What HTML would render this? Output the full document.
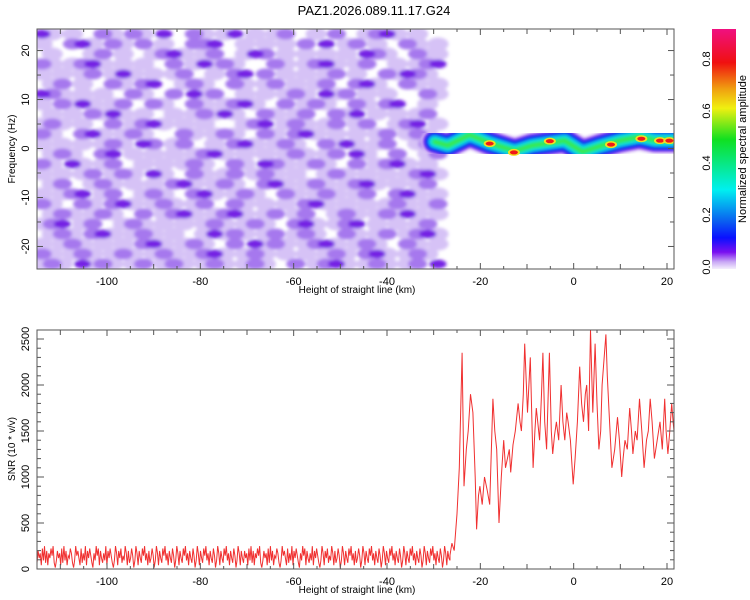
<!DOCTYPE html>
<html><head><meta charset="utf-8"><style>
body{margin:0;background:#fff;}
svg{display:block;font-family:"Liberation Sans",sans-serif;}
</style></head><body>
<svg id="c" width="750" height="600" viewBox="0 0 750 600" xmlns="http://www.w3.org/2000/svg">
<defs>
<linearGradient id="cg" x1="0" y1="1" x2="0" y2="0">
<stop offset="0" stop-color="#f4eefc"/><stop offset="0.03" stop-color="#c9a8f5"/>
<stop offset="0.07" stop-color="#7a10f0"/><stop offset="0.13" stop-color="#0a10ff"/>
<stop offset="0.2" stop-color="#0a60f0"/><stop offset="0.33" stop-color="#00f0f0"/>
<stop offset="0.54" stop-color="#10e020"/><stop offset="0.67" stop-color="#f0f010"/>
<stop offset="0.75" stop-color="#f0a010"/><stop offset="0.86" stop-color="#f01010"/>
<stop offset="1" stop-color="#f01080"/>
</linearGradient>
<clipPath id="cp1"><rect x="37" y="29" width="637" height="240"/></clipPath>
<clipPath id="cp2"><rect x="37" y="330" width="637" height="239"/></clipPath>
<filter id="bl" x="-5%" y="-5%" width="110%" height="110%"><feGaussianBlur stdDeviation="1.6"/></filter>
<filter id="bl2"><feGaussianBlur stdDeviation="1.5"/></filter>
</defs>
<text x="374" y="15" text-anchor="middle" font-size="13">PAZ1.2026.089.11.17.G24</text>
<g id="topPanel"></g>
<g id="botPanel"></g>
<rect x="712" y="29" width="24" height="240" fill="url(#cg)"/>
<g id="cbTicksG"></g>
<text transform="translate(746,149) rotate(-90)" text-anchor="middle" font-size="11">Normalized spectral amplitude</text>
</svg>
<script>
const NS='http://www.w3.org/2000/svg';
const xDomain=[-115,21.5];
const fDomain=[-24.6,24.4];
const snrDomain=[0,2598];
const xTicks=[-100,-80,-60,-40,-20,0,20];
const fTicks=[-20,-10,0,10,20];
const snrTicks=[0,500,1000,1500,2000,2500];
const cbTicks=[0,0.2,0.4,0.6,0.8];
const noiseRows=[
"3101002102103002101301012001020012310100",
"1002310210201002230010101020301201002101",
"0100012010012310120013201010101032100211",
"2101231010100201312100021012310120010123",
"1010120131010120010230201010120100213210",
"0120100210230012100210120101200231002101",
"3210101002100203120010101210312010100021",
"1021310120021002101231002012100210230010",
"0101021310100101213100210120021301010120",
"1210100201231010100012301210120120012301",
"2100231012100021012100210231010101201210",
"1010101210320120010231012100213101200121",
"0121002301010101231010101210120310020012",
"2103101200101012100210321012100201231010",
"1010120121031002101201210100121010101231",
"0120012101010231012100231012101231010120",
"1012301200121002310121002101210120023101",
"2100210231012101200210101023101010121012",
"0121012100201231012310120120012101213101",
"1230120012101010121012100231012301010120",
"0121023101210100131210120121002101201231",
"1012101010231012100203121012310121002101",
"2101210121012101231012101010121023101210",
"1210312101201210121012100201231012101203"];
const noiseRange=[-115,-28];
const bandKm=[-29.8,-27,-22.3,-18,-12.6,-9,-6.2,-1.9,1.9,5.6,9.8,14.1,17.3,21.5];
const bandHz=[1.4,0.6,2.8,1.1,-0.5,0.6,1.0,1.6,-0.7,0.5,1.6,2.4,1.7,1.7];
const hotKm=[-18,-12.8,-5.1,8,14.5,18.5,20.5];
const hotHz=[1.0,-0.8,1.5,0.8,2.0,1.6,1.6];
const baseDigits="2746183927164859203746182937154862039574182639174852063958174263917485203961748253961724850396174285936172485039617428593617428503961742859361742850396174285936174285039617428593617428503961742746183927164859203746182937154862039574182639174852063958174263917485203961748253961724850396174285936172485039617428593617428503961742859361742850396174285936174285039617428593617428503961743";
const baseRange=[-115,-26.5];
const sigKm=[-26.5,-26.1,-25.6,-25,-24.5,-23.9,-23.5,-23,-22.6,-22.1,-21.6,-21.1,-20.8,-20.4,-20.1,-19.6,-19.1,-18.5,-18,-17.3,-16.9,-16.5,-16,-15.5,-15,-14.6,-14.2,-13.8,-13.5,-13,-12.5,-11.9,-11.5,-11.2,-10.8,-10.5,-9.9,-9.6,-9.3,-8.7,-8.3,-8,-7.3,-6.9,-6.6,-6.2,-5.8,-5.2,-4.8,-4.5,-4.1,-3.7,-3.2,-2.7,-2.3,-1.9,-1.5,-1.2,-0.7,-0.1,0.3,0.8,1.3,1.7,2.1,2.5,2.8,3.2,3.6,4.1,4.6,5,5.4,5.8,6.1,6.9,7.2,7.6,8.2,8.8,9.4,9.8,10.3,10.6,11,11.5,12,12.4,12.7,13.2,13.6,14.1,14.6,15.1,15.6,16,16.4,16.8,17.3,17.9,18.5,19,19.5,19.8,20.2,20.6,21,21.3,21.7];
const sigVal=[150,280,200,600,1100,2350,900,1300,1500,1900,1700,1000,430,800,900,700,1000,850,700,1850,1500,1300,500,1000,1400,1100,1200,1300,1050,1350,1500,1800,1600,1500,1900,2450,1700,2000,2300,1100,1500,1750,1400,1900,2350,1600,1300,2350,1500,1250,1450,1600,1400,2000,1600,1400,1700,1600,1400,920,1200,1600,2200,1800,1600,1900,2000,1500,2600,1700,2450,1800,1300,1500,2000,2550,2100,1700,1100,1300,1650,1400,1000,1200,1400,1300,1750,1500,1250,1500,1400,1850,1500,1100,1400,1500,1850,1600,1200,1400,1600,1300,1850,1500,1250,1500,1800,1600,1400];

const px=v=>37+(v-xDomain[0])/(xDomain[1]-xDomain[0])*637;
const pyF=v=>269-(v-fDomain[0])/(fDomain[1]-fDomain[0])*240;
const pyS=v=>569-(v-snrDomain[0])/(snrDomain[1]-snrDomain[0])*239;
const pyC=v=>267-v/0.2*52;

function mk(tag,attrs,parent){const e=document.createElementNS(NS,tag);for(const k in attrs)e.setAttribute(k,attrs[k]);parent.appendChild(e);return e;}
const topG=document.getElementById('topPanel'),botG=document.getElementById('botPanel'),cbG=document.getElementById('cbTicksG');

const ng=mk('g',{'clip-path':'url(#cp1)',filter:'url(#bl)'},topG);


const cols=noiseRows[0].length, rows=noiseRows.length;
const cw=(px(noiseRange[1])-px(noiseRange[0]))/cols, ch=240/rows;
const ncol=['none','#d6c2f6','#a678ee','#7420e4'];
const nry=[0,6.5,5.5,4.5];
const nrx=[0,1.05,0.95,0.85];
[1,2,3].forEach(lvl=>{
noiseRows.forEach((r,i)=>{for(let j=0;j<r.length;j++){const d=+r[j];if(d!==lvl)continue;
 const c=mk('ellipse',{cx:px(noiseRange[0])+(j+0.5)*cw,cy:29+(i+0.5)*ch,rx:cw*nrx[d],ry:nry[d],fill:ncol[d]},ng);
 
 }});});
const bg=mk('g',{'clip-path':'url(#cp1)'},topG);


const bpts=bandKm.map((k,i)=>px(k).toFixed(1)+','+pyF(bandHz[i]).toFixed(1)).join(' ');
[[27,'#e2d2f8'],[23,'#8a30f0'],[19,'#1020f0'],[14,'#10b8f0'],[9,'#10e8d0'],[4,'#40e840']].forEach(([w,c])=>{
 const l=mk('polyline',{points:bpts,fill:'none',stroke:c,'stroke-width':w,'stroke-linejoin':'round','stroke-linecap':'round',filter:'url(#bl2)'},bg);
 
 });
hotKm.forEach((k,i)=>{
 const e=mk('ellipse',{cx:px(k),cy:pyF(hotHz[i]),rx:6,ry:3.5,fill:'#f0e020'},bg);
 
 
 const e2=mk('ellipse',{cx:px(k),cy:pyF(hotHz[i]),rx:4,ry:2,fill:'#f01818'},bg);
 
 });

const lg=mk('g',{'clip-path':'url(#cp2)'},botG);
const pts=[];
const n=baseDigits.length;
for(let i=0;i<n;i++){pts.push([baseRange[0]+i*(baseRange[1]-baseRange[0])/(n-1),(+baseDigits[i])*26+15]);}
sigKm.forEach((k,i)=>pts.push([k,sigVal[i]]));
const line=mk('polyline',{points:pts.map(p=>px(p[0]).toFixed(1)+','+pyS(p[1]).toFixed(1)).join(' '),fill:'none',stroke:'#f03030','stroke-width':1},lg);



function frame(g,y0,y1,name){
 const r=mk('rect',{x:37,y:y0,width:637,height:y1-y0,fill:'none',stroke:'#555','stroke-width':1},g);
 
 
 for(let v=-110;v<=20;v+=5){const x=px(v);const L=(v%20===0)?6:(v%10===0?5:3);
  mk('line',{x1:x,x2:x,y1:y1,y2:y1-L,stroke:'#555'},g);mk('line',{x1:x,x2:x,y1:y0,y2:y0+L,stroke:'#555'},g);}
 xTicks.forEach(v=>{const t=mk('text',{x:px(v),y:y1+16,'text-anchor':'middle','font-size':11},g);t.textContent=v;
  
  });
 const t=mk('text',{x:357,y:y1+24,'text-anchor':'middle','font-size':10},g);t.textContent='Height of straight line (km)';
 
 
}
frame(topG,29,269,'spectrogram-frame');
frame(botG,330,569,'snr-frame');
for(let v=-20;v<=20;v+=5){const y=pyF(v);const L=v%10===0?6:4;
 mk('line',{x1:37,x2:37+L,y1:y,y2:y,stroke:'#555'},topG);mk('line',{x1:674,x2:674-L,y1:y,y2:y,stroke:'#555'},topG);}
fTicks.forEach(v=>{const t=mk('text',{transform:`translate(29,${pyF(v)}) rotate(-90)`,'text-anchor':'middle','font-size':11},topG);t.textContent=v;
 
 });
let tt=mk('text',{transform:'translate(15,149) rotate(-90)','text-anchor':'middle','font-size':10},topG);tt.textContent='Frequency (Hz)';


for(let v=0;v<=2500;v+=100){const y=pyS(v);const L=v%500===0?7:4;
 mk('line',{x1:37,x2:37+L,y1:y,y2:y,stroke:'#555'},botG);mk('line',{x1:674,x2:674-L,y1:y,y2:y,stroke:'#555'},botG);}
snrTicks.forEach(v=>{const t=mk('text',{transform:`translate(29,${pyS(v)}) rotate(-90)`,'text-anchor':'middle','font-size':11},botG);t.textContent=v;
 
 });
tt=mk('text',{transform:'translate(15,449) rotate(-90)','text-anchor':'middle','font-size':10},botG);tt.textContent='SNR (10 * v/v)';


cbTicks.forEach(v=>{const t=mk('text',{transform:`translate(710,${pyC(v)}) rotate(-90)`,'text-anchor':'middle','font-size':11},cbG);t.textContent=v.toFixed(1);
 
 });
</script>
</body></html>
